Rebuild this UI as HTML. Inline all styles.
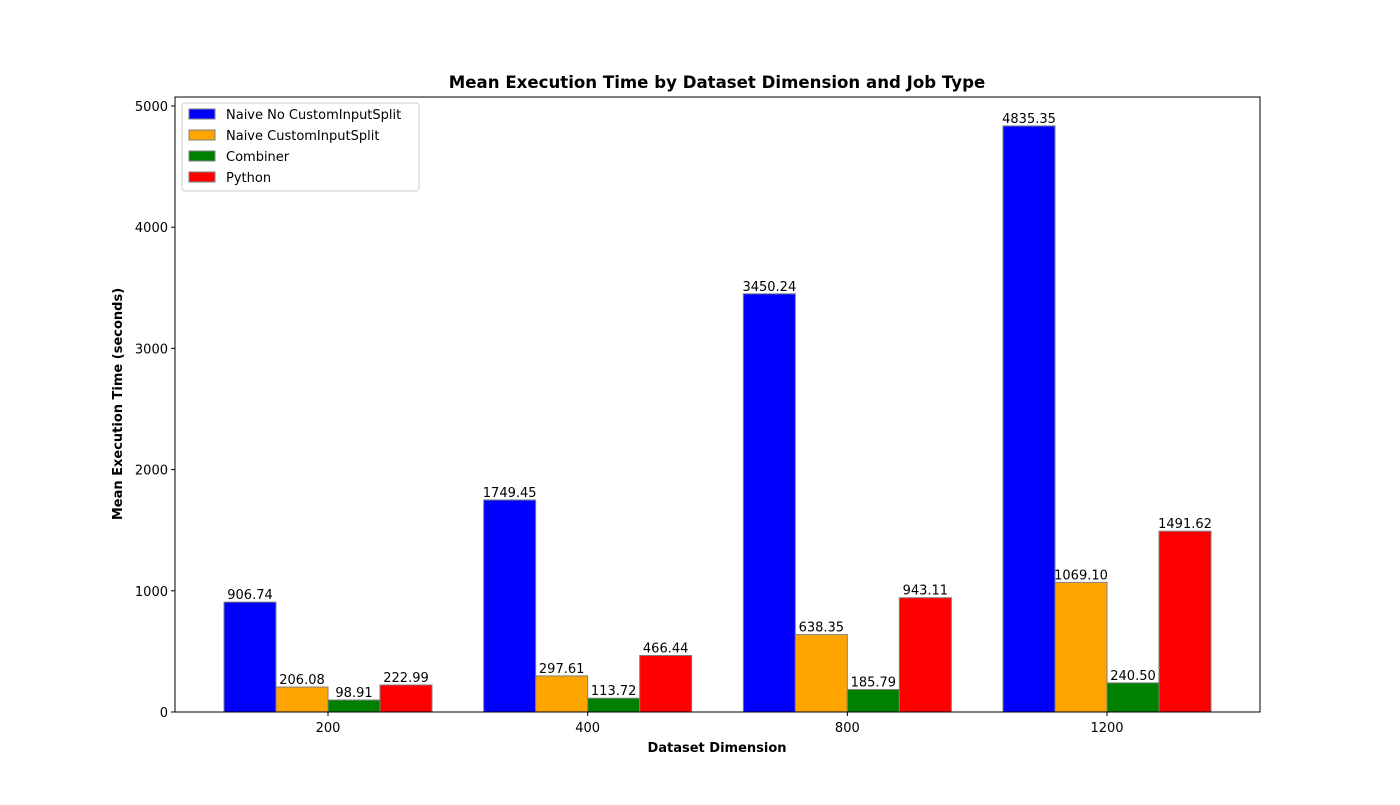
<!DOCTYPE html>
<html><head><meta charset="utf-8"><style>
body{margin:0;background:#fff;font-family:"Liberation Sans","DejaVu Sans",sans-serif}
svg text{font-family:"DejaVu Sans","Liberation Sans",sans-serif}
</style></head><body>
<svg id="chart" width="1400" height="800" xmlns="http://www.w3.org/2000/svg"></svg>
<script>
const categories = ["200","400","800","1200"];
const seriesNames = ["Naive No CustomInputSplit","Naive CustomInputSplit","Combiner","Python"];
const naiveNoSplit = [906.74,1749.45,3450.24,4835.35];
const naiveSplit = [206.08,297.61,638.35,1069.10];
const combiner = [98.91,113.72,185.79,240.50];
const python = [222.99,466.44,943.11,1491.62];
const yTicks = [0,1000,2000,3000,4000,5000];
const colors = ["#0000ff","#ffa500","#008000","#ff0000"];
const series=[naiveNoSplit,naiveSplit,combiner,python];
const svg=document.getElementById('chart');
const NS="http://www.w3.org/2000/svg";
const L=175,R=1260,T=97,B=712,YMAX=5074;
function y(v){return B-(v/YMAX)*(B-T);}
function xc(i){return 328+i*259.67;}
const bw=52;
function mk(tag,attrs,text){const e=document.createElementNS(NS,tag);for(const k in attrs)e.setAttribute(k,attrs[k]);if(text!==undefined)e.textContent=text;svg.appendChild(e);return e;}
series.forEach((s,si)=>{s.forEach((v,i)=>{
 const x0=xc(i)+(si-2)*bw;
 const r=mk('rect',{x:x0,y:y(v),width:bw,height:B-y(v),fill:colors[si],stroke:'#808080','stroke-width':1});
 
 
 const t=mk('text',{x:x0+bw/2,y:y(v)-3,'text-anchor':'middle','font-size':13},v.toFixed(2));
 
 
});});
const frame=mk('rect',{x:L,y:T,width:R-L,height:B-T,fill:'none',stroke:'#000','stroke-width':1});


yTicks.forEach(v=>{
 mk('line',{x1:L-4,x2:L,y1:y(v),y2:y(v),stroke:'#000'});
 const t=mk('text',{x:L-7,y:y(v)+5,'text-anchor':'end','font-size':13},String(v));
 
 
});
categories.forEach((c,i)=>{
 mk('line',{x1:xc(i),x2:xc(i),y1:B,y2:B+4,stroke:'#000'});
 const t=mk('text',{x:xc(i),y:B+20,'text-anchor':'middle','font-size':13},c);
 
 
});
let t=mk('text',{x:717,y:88,'text-anchor':'middle','font-size':16.6,'font-weight':'bold'},'Mean Execution Time by Dataset Dimension and Job Type');

t=mk('text',{x:717,y:752,'text-anchor':'middle','font-size':13,'font-weight':'bold'},'Dataset Dimension');

t=mk('text',{x:122,y:404,'text-anchor':'middle','font-size':13,'font-weight':'bold',transform:'rotate(-90 122 404)'},'Mean Execution Time (seconds)');

const lg=mk('rect',{x:182,y:103,width:237,height:88,rx:3,fill:'#fff',stroke:'#ccc'});

seriesNames.forEach((n,i)=>{
 const yy=109+i*21;
 const r=mk('rect',{x:189,y:yy,width:26,height:10,fill:colors[i],stroke:'#808080'});
 
 const tt=mk('text',{x:226,y:yy+10,'font-size':13},n);
 
});
</script>
</body></html>
